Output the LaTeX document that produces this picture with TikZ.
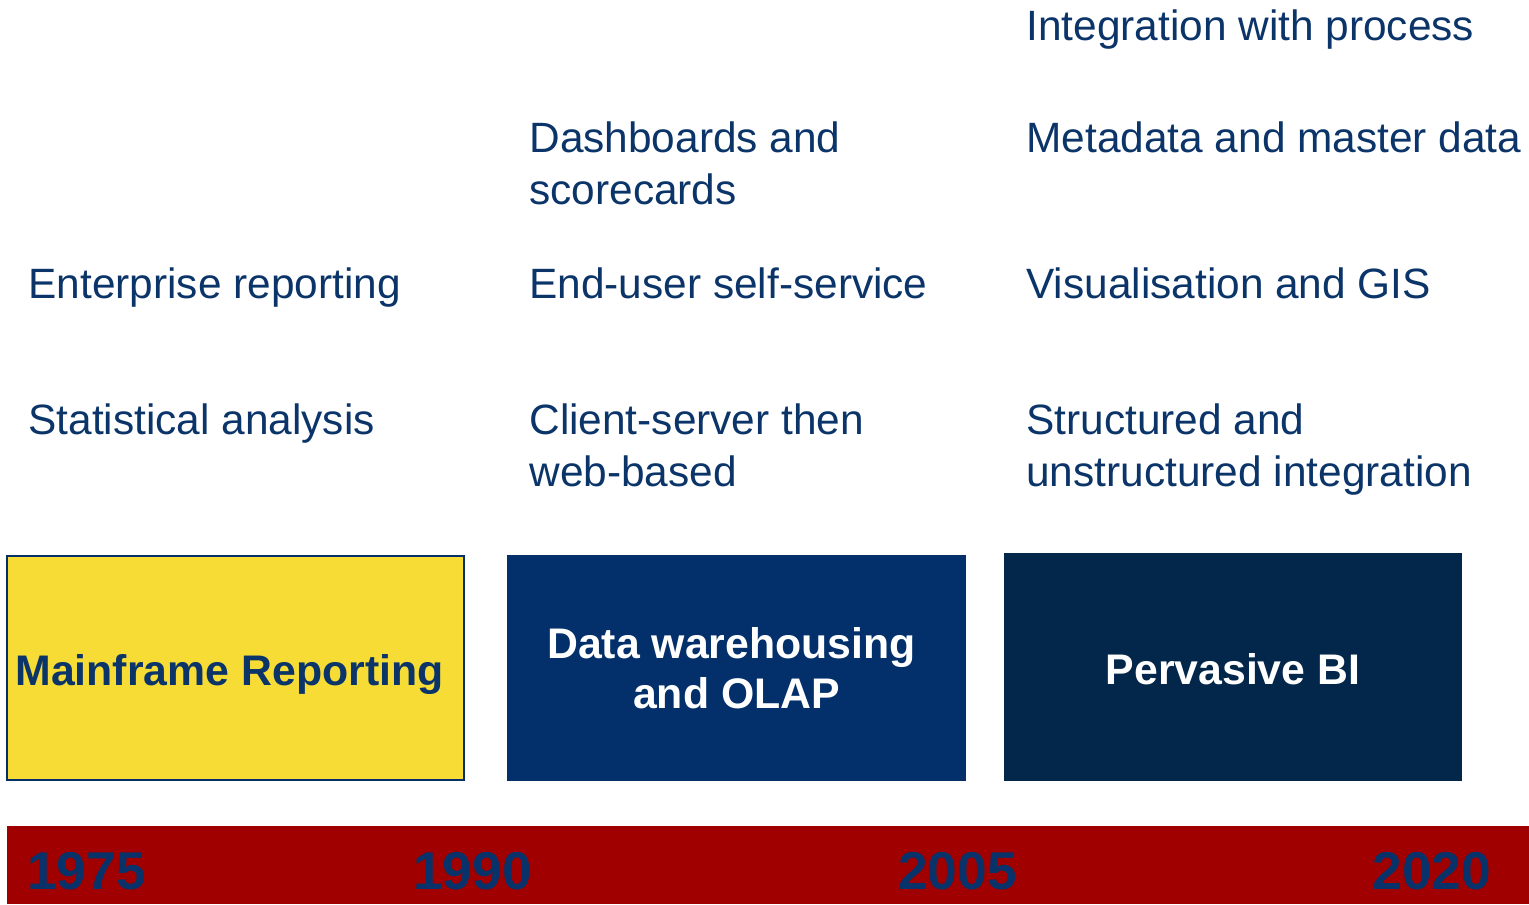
\documentclass[tikz,border=0pt]{standalone}
\usepackage{fontspec}
\setmainfont{Liberation Sans}
\usetikzlibrary{positioning}
\definecolor{txtblue}{HTML}{0B3469}
\definecolor{mainyellow}{HTML}{F6DC35}
\definecolor{dwblue}{HTML}{03306A}
\definecolor{pvnavy}{HTML}{03264B}
\definecolor{barred}{HTML}{A00000}
\definecolor{yearblue}{HTML}{07326A}
\begin{document}
\begin{tikzpicture}[x=0.5pt,y=-0.5pt,
  item/.style={anchor=base west,inner sep=0pt,text=txtblue,align=left,font=\fontsize{21.2}{26}\selectfont},
  era/.style={draw=dwblue,line width=0.8pt,minimum width=228.5pt,minimum height=112pt,inner sep=0pt,align=center,font=\fontsize{21.4}{25}\selectfont\bfseries},
  year/.style={anchor=base west,inner sep=0pt,text=yearblue,font=\fontsize{26.6}{30}\selectfont\bfseries}]
  \useasboundingbox (0,0) rectangle (1529,904);
  % column 1975
  \node (e1) at (28,298)[item]{Enterprise reporting};
  \node (s1) at (28,434)[item]{Statistical analysis};
  % column 1990 (multi-line nodes sit on their last line)
  \node (d2) at (529,204)[item]{Dashboards and\\scorecards};
  \node (u2) at (529,298)[item]{End-user self-service};
  \node (c2) at (529,486)[item]{Client-server then\\web-based};
  % column 2005
  \node (i3) at (1026,41)[item]{Integration with process};
  \node (m3) at (1026,152)[item]{Metadata and master data};
  \node (v3) at (1026,298)[item]{Visualisation and GIS};
  \node (t3) at (1026,486)[item]{Structured and\\unstructured integration};
  % eras
  \node (mf) at (235.5,668)[era,fill=mainyellow,text=txtblue]{\raisebox{-8.5pt}[0pt][0pt]{\hspace*{-6pt}Mainframe Reporting}};
  \node (dw) at (736.5,668)[era,fill=dwblue,text=white]{\hspace*{-5pt}Data warehousing\\and OLAP};
  \node (pv) at (1233,667)[era,fill=pvnavy,draw=pvnavy,text=white,minimum height=113pt]{\raisebox{-8.5pt}[0pt][0pt]{Pervasive BI}};
  % time bar
  \fill[barred] (7,826) rectangle (1529,904);
  \node (y1) at (27,889)[year]{1975};
  \node (y2) at (413,889)[year]{1990};
  \node (y3) at (898,889)[year]{2005};
  \node (y4) at (1372,889)[year]{2020};
\end{tikzpicture}
\end{document}
